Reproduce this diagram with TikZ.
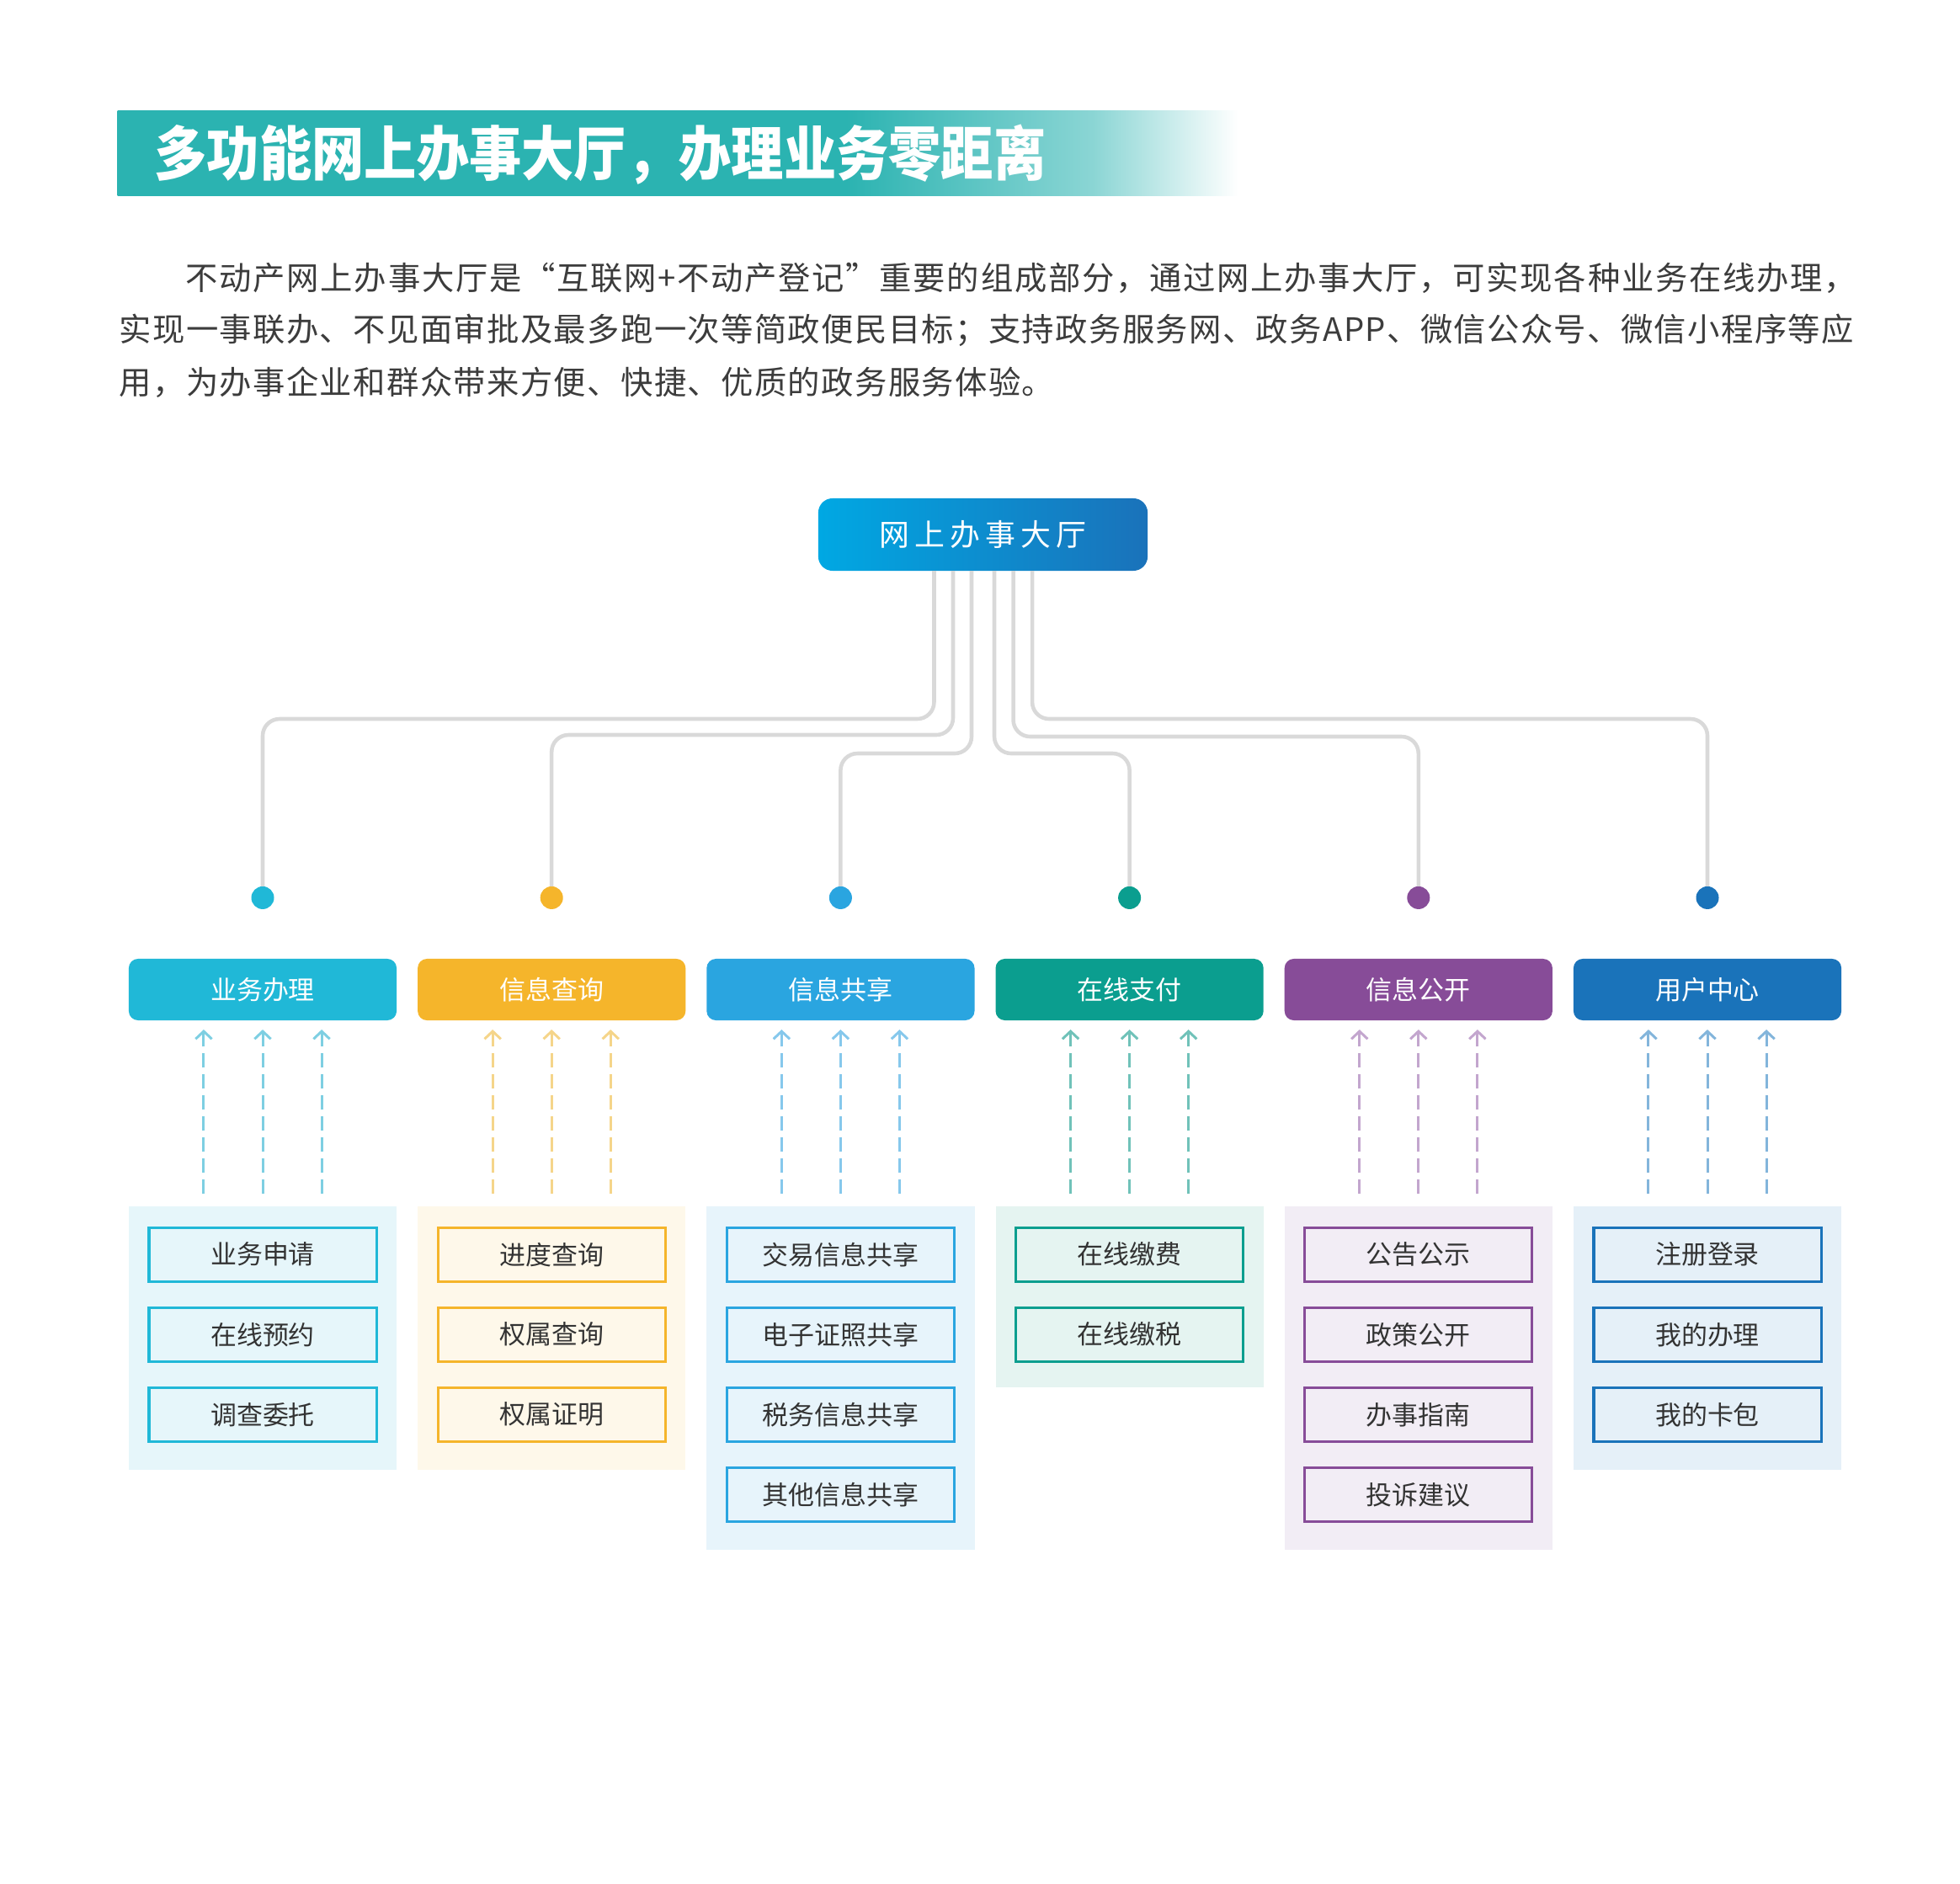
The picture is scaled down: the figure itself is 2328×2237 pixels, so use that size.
\documentclass[tikz,border=0pt]{standalone}
\usepackage{fontspec}
\setmainfont{Noto Sans CJK SC}
\RequirePackage{xcolor}
\usetikzlibrary{positioning}
\usetikzlibrary{arrows.meta}

\definecolor{bannerteal}{HTML}{2BB3B1}
\definecolor{hubleft}{HTML}{00A8E3}
\definecolor{hubright}{HTML}{1A72BA}
\definecolor{wiregray}{HTML}{D9D9D9}
\definecolor{introgray}{HTML}{3C3C3C}
\definecolor{tilegray}{HTML}{333333}
% column colours: header, dashes, panel
\definecolor{c1}{HTML}{20B8D7}\definecolor{d1}{HTML}{7ECFE2}\definecolor{p1}{HTML}{E6F6FA}
\definecolor{c2}{HTML}{F5B52B}\definecolor{d2}{HTML}{F5D58A}\definecolor{p2}{HTML}{FEF8EA}
\definecolor{c3}{HTML}{2AA5E0}\definecolor{d3}{HTML}{86C8EC}\definecolor{p3}{HTML}{E7F4FB}
\definecolor{c4}{HTML}{0B9E8F}\definecolor{d4}{HTML}{70C2B9}\definecolor{p4}{HTML}{E5F4F1}
\definecolor{c5}{HTML}{874C98}\definecolor{d5}{HTML}{C3A6CE}\definecolor{p5}{HTML}{F2EDF5}
\definecolor{c6}{HTML}{1A73BA}\definecolor{d6}{HTML}{83B5DB}\definecolor{p6}{HTML}{E5F0F8}

\pgfdeclarehorizontalshading{bannerfade}{100bp}{color(0bp)=(bannerteal); color(57.5bp)=(bannerteal); color(68.5bp)=(bannerteal!55!white); color(75bp)=(white); color(100bp)=(white)}

\newcommand\titlefont{\fontsize{19.9pt}{24pt}\selectfont\bfseries}
\newcommand\introfont{\fontsize{10.9pt}{13pt}\selectfont\addfontfeature{LetterSpace=3.6}}
\newcommand\hubfont{\fontsize{10.2pt}{12pt}\selectfont\addfontfeature{LetterSpace=17}}
\newcommand\tilefont{\fontsize{8.8pt}{10pt}\selectfont}

\begin{document}
\begin{tikzpicture}[x=0.01cm, y=-0.01cm, every node/.style={outer sep=0pt},
  wire/.style={draw=wiregray, line width=1.3pt, rounded corners=2mm},
  hubbox/.style={rounded corners=1.7mm, left color=hubleft, right color=hubright,
    minimum width=3.91cm, minimum height=0.86cm, text=white, font=\hubfont},
  headbox/.style={rounded corners=1.1mm, minimum width=3.18cm, minimum height=0.73cm,
    text=white, font=\tilefont},
  panelbox/.style={minimum width=3.18cm, inner sep=0pt},
  itembox/.style={draw, line width=0.9pt, minimum width=2.7cm, minimum height=0.64cm,
    text=tilegray, font=\tilefont},
  joint/.style={circle, inner sep=0pt, minimum size=0.27cm},
  uparrow/.style={every edge/.style={draw=#1, line width=0.85pt, dash pattern=on 4.8pt off 2.3pt,
    -{Straight Barb[length=2.6pt, width=5.5pt]}, shorten <=0.15cm, shorten >=0.11cm}}]
  \useasboundingbox (0,0) rectangle (2328,2237);

  % title and intro
  \node[shading=bannerfade, minimum width=13.3cm, minimum height=1cm] (banner) at (805,182) {};
  \begin{scope}[every node/.style={anchor=west, inner sep=0pt}]
    \node[text=white, font=\titlefont] (title) at (183,184) {\scalebox{0.89}[1]{多功能网上办事大厅，办理业务零距离}};
    \node[text=introgray, font=\introfont\addfontfeature{LetterSpace=4.5}] (intro1) at (220,330) {不动产网上办事大厅是“互联网+不动产登记”重要的组成部分，通过网上办事大厅，可实现各种业务在线办理，};
    \node[text=introgray, font=\introfont] (intro2) at (141,392) {实现一事联办、不见面审批及最多跑一次等简政便民目标；支持政务服务网、政务APP、微信公众号、微信小程序等应};
    \node[text=introgray, font=\introfont] (intro3) at (141,454) {用，为办事企业和群众带来方便、快捷、优质的政务服务体验。};
  \end{scope}

  % hall and modules
  \node[hubbox] (hub) at (1167.5,635) {网上办事大厅};

  \node[headbox, fill=c1] at (312,1175.5) (h1) {业务办理};
  \node[headbox, fill=c2, right=0.25cm of h1] (h2) {信息查询};
  \node[headbox, fill=c3, right=0.25cm of h2] (h3) {信息共享};
  \node[headbox, fill=c4, right=0.25cm of h3] (h4) {在线支付};
  \node[headbox, fill=c5, right=0.25cm of h4] (h5) {信息公开};
  \node[headbox, fill=c6, right=0.25cm of h5] (h6) {用户中心};

  \node[joint, fill=c1, above=0.59cm of h1] (j1) {};
  \node[joint, fill=c2, above=0.59cm of h2] (j2) {};
  \node[joint, fill=c3, above=0.59cm of h3] (j3) {};
  \node[joint, fill=c4, above=0.59cm of h4] (j4) {};
  \node[joint, fill=c5, above=0.59cm of h5] (j5) {};
  \node[joint, fill=c6, above=0.59cm of h6] (j6) {};

  \draw[wire] ([xshift=-5.8mm]hub.south) -- ++(0,176) -| (j1);
  \draw[wire] ([xshift=-3.55mm]hub.south) -- ++(0,195) -| (j2);
  \draw[wire] ([xshift=-1.35mm]hub.south) -- ++(0,217) -| (j3);
  \draw[wire] ([xshift=1.35mm]hub.south) -- ++(0,217) -| (j4);
  \draw[wire] ([xshift=3.6mm]hub.south) -- ++(0,197) -| (j5);
  \draw[wire] ([xshift=5.85mm]hub.south) -- ++(0,176) -| (j6);

  % panels
  \node[panelbox, fill=p1, minimum height=3.13cm, below=2.21cm of h1] (pan1) {};
  \node[panelbox, fill=p2, minimum height=3.13cm, below=2.21cm of h2] (pan2) {};
  \node[panelbox, fill=p3, minimum height=4.08cm, below=2.21cm of h3] (pan3) {};
  \node[panelbox, fill=p4, minimum height=2.15cm, below=2.21cm of h4] (pan4) {};
  \node[panelbox, fill=p5, minimum height=4.08cm, below=2.21cm of h5] (pan5) {};
  \node[panelbox, fill=p6, minimum height=3.13cm, below=2.21cm of h6] (pan6) {};

  \path[uparrow=d1] ([xshift=-7mm]pan1.north) edge ([xshift=-7mm]h1.south)
    (pan1.north) edge (h1.south) ([xshift=7mm]pan1.north) edge ([xshift=7mm]h1.south);
  \path[uparrow=d2] ([xshift=-7mm]pan2.north) edge ([xshift=-7mm]h2.south)
    (pan2.north) edge (h2.south) ([xshift=7mm]pan2.north) edge ([xshift=7mm]h2.south);
  \path[uparrow=d3] ([xshift=-7mm]pan3.north) edge ([xshift=-7mm]h3.south)
    (pan3.north) edge (h3.south) ([xshift=7mm]pan3.north) edge ([xshift=7mm]h3.south);
  \path[uparrow=d4] ([xshift=-7mm]pan4.north) edge ([xshift=-7mm]h4.south)
    (pan4.north) edge (h4.south) ([xshift=7mm]pan4.north) edge ([xshift=7mm]h4.south);
  \path[uparrow=d5] ([xshift=-7mm]pan5.north) edge ([xshift=-7mm]h5.south)
    (pan5.north) edge (h5.south) ([xshift=7mm]pan5.north) edge ([xshift=7mm]h5.south);
  \path[uparrow=d6] ([xshift=-7mm]pan6.north) edge ([xshift=-7mm]h6.south)
    (pan6.north) edge (h6.south) ([xshift=7mm]pan6.north) edge ([xshift=7mm]h6.south);

  % items
  \node[itembox, draw=c1, fill=p1, below=0.25cm of pan1.north] (a1) {业务申请};
  \node[itembox, draw=c1, fill=p1, below=0.31cm of a1] (a2) {在线预约};
  \node[itembox, draw=c1, fill=p1, below=0.31cm of a2] (a3) {调查委托};

  \node[itembox, draw=c2, fill=p2, below=0.25cm of pan2.north] (b1) {进度查询};
  \node[itembox, draw=c2, fill=p2, below=0.31cm of b1] (b2) {权属查询};
  \node[itembox, draw=c2, fill=p2, below=0.31cm of b2] (b3) {权属证明};

  \node[itembox, draw=c3, fill=p3, below=0.25cm of pan3.north] (c1) {交易信息共享};
  \node[itembox, draw=c3, fill=p3, below=0.31cm of c1] (c2) {电子证照共享};
  \node[itembox, draw=c3, fill=p3, below=0.31cm of c2] (c3) {税务信息共享};
  \node[itembox, draw=c3, fill=p3, below=0.31cm of c3] (c4) {其他信息共享};

  \node[itembox, draw=c4, fill=p4, below=0.25cm of pan4.north] (e1) {在线缴费};
  \node[itembox, draw=c4, fill=p4, below=0.31cm of e1] (e2) {在线缴税};

  \node[itembox, draw=c5, fill=p5, below=0.25cm of pan5.north] (f1) {公告公示};
  \node[itembox, draw=c5, fill=p5, below=0.31cm of f1] (f2) {政策公开};
  \node[itembox, draw=c5, fill=p5, below=0.31cm of f2] (f3) {办事指南};
  \node[itembox, draw=c5, fill=p5, below=0.31cm of f3] (f4) {投诉建议};

  \node[itembox, draw=c6, fill=p6, below=0.25cm of pan6.north] (g1) {注册登录};
  \node[itembox, draw=c6, fill=p6, below=0.31cm of g1] (g2) {我的办理};
  \node[itembox, draw=c6, fill=p6, below=0.31cm of g2] (g3) {我的卡包};
\end{tikzpicture}
\end{document}
